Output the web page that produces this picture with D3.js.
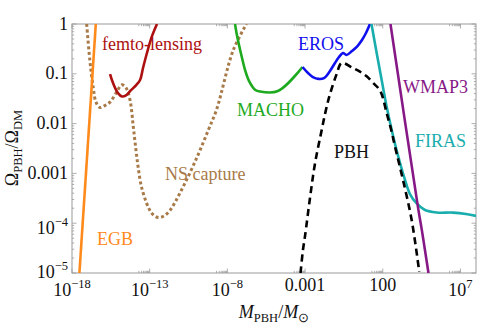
<!DOCTYPE html>
<html><head><meta charset="utf-8"><script src="https://cdn.jsdelivr.net/npm/d3@7"></script></head>
<body style="margin:0">
<script>
// curves: [M_PBH / M_sun, Omega_PBH / Omega_DM]
const egb = [[3.0e-18, 1e-5], [3.4e-17, 1]];
const nsCapture = [
  [8.8e-18, 1], [1.4e-17, 0.19], [2.3e-17, 0.054], [3.5e-17, 0.027], [6.3e-17, 0.021],
  [1.3e-16, 0.023], [2.8e-16, 0.027], [7.5e-16, 0.043], [1.6e-15, 0.06], [3e-15, 0.052],
  [5.4e-15, 0.03], [8.8e-15, 0.0086], [1.3e-14, 0.003], [1.8e-14, 0.00135], [3e-14, 5.3e-4],
  [8.1e-14, 2.1e-4], [1.6e-13, 1.5e-4], [3.6e-13, 1.3e-4], [8.3e-13, 1.4e-4], [2e-12, 1.8e-4],
  [1.1e-11, 4.6e-4], [1.1e-10, 0.0021], [5.9e-10, 0.0074], [2e-9, 0.019], [2.4e-8, 0.3], [1.7e-7, 1]
];
const femto = [
  [2.8e-16, 0.099], [4.5e-16, 0.064], [9.1e-16, 0.041], [1.65e-15, 0.035], [3e-15, 0.037],
  [6.3e-15, 0.047], [1.4e-14, 0.06], [2.4e-14, 0.075], [3.7e-14, 0.13], [6.4e-14, 0.25],
  [1.35e-13, 0.55], [2.95e-13, 1]
];
const macho = [
  [3.1e-8, 1], [4.1e-8, 0.6], [5.6e-8, 0.38], [8.7e-8, 0.21], [1.36e-7, 0.12],
  [2.45e-7, 0.072], [6e-7, 0.048], [1.25e-6, 0.044], [1.8e-5, 0.045], [6.8e-4, 0.137]
];
const eros = [
  [6.8e-4, 0.137], [1.54e-3, 0.104], [3.2e-3, 0.086], [7.3e-3, 0.079], [0.0164, 0.082],
  [0.04, 0.114], [0.084, 0.165], [0.152, 0.217], [0.275, 0.262], [0.46, 0.239],
  [1.04, 0.287], [2.2, 0.353], [4.6, 0.478], [8.3, 0.66], [15, 1]
];
const pbh = [
  [5.1e-4, 1e-5], [7.3e-4, 2.9e-5], [9.9e-4, 5.5e-5], [2.07e-3, 3.2e-4], [4.3e-3, 1.55e-3],
  [0.0117, 7.4e-3], [0.022, 0.0188], [0.04, 0.039], [0.108, 0.099], [0.226, 0.165],
  [1.21, 0.13], [3.4, 0.11], [9.6, 0.088], [24.5, 0.065], [57, 0.0496], [89, 0.0375],
  [178, 0.0163], [337, 7.8e-3], [611, 3.47e-3], [2000, 7.4e-4], [7240, 1.16e-4], [22300, 1.05e-5]
];
const firas = [
  [18.75, 1], [40.5, 0.262], [85, 0.075], [178, 0.0218], [474, 5.46e-3],
  [1280, 1.62e-3], [2690, 7.4e-4], [5600, 3.85e-4], [15200, 2.49e-4], [52000, 1.84e-4],
  [2.94e5, 1.64e-4], [3.29e6, 1.63e-4], [2.26e7, 1.53e-4], [1e8, 1.4e-4]
];
const wmap3 = [[313, 1], [18400, 2.1e-4], [33300, 7e-5], [87300, 1e-5]];

const xTicks = [1e-18, 1e-13, 1e-8, 1e-3, 1e2, 1e7];
const xTickLabels = [["10", "\u221218"], ["10", "\u221213"], ["10", "\u22128"], ["0.001"], ["100"], ["10", "7"]];
const yTicks = [1, 0.1, 0.01, 0.001, 1e-4, 1e-5];
const yTickLabels = [["1"], ["0.1"], ["0.01"], ["0.001"], ["10", "\u22124"], ["10", "\u22125"]];

const W = 481, H = 327;
const margin = {top: 24, right: 5, bottom: 54, left: 72};
const width = W - margin.left - margin.right;
const height = H - margin.top - margin.bottom;

const svg = d3.select("body").append("svg").attr("width", W).attr("height", H);
const g = svg.append("g").attr("transform", `translate(${margin.left},${margin.top})`);

const x = d3.scaleLog().domain([1e-18, 1e8]).range([0, width]);
const y = d3.scaleLog().domain([1e-5, 1]).range([height, 0]);

svg.append("defs").append("clipPath").attr("id", "clip")
  .append("rect").attr("width", width).attr("height", height);

// frame + ticks
const frameColor = "#9a9a9a";
g.append("rect").attr("width", width).attr("height", height)
  .attr("fill", "none").attr("stroke", frameColor).attr("stroke-width", 1);

const xMinor = [];
xTicks.forEach(t => { for (let k = 2; k <= 9; k++) xMinor.push(k * t / 10); });
const yMinor = [];
yTicks.slice(1).forEach(t => { for (let k = 2; k <= 9; k++) yMinor.push(k * t); });

const ticks = g.append("g").attr("stroke", frameColor).attr("stroke-width", 0.8);
function xTick(v, len) {
  ticks.append("line").attr("x1", x(v)).attr("x2", x(v)).attr("y1", height).attr("y2", height - len);
  ticks.append("line").attr("x1", x(v)).attr("x2", x(v)).attr("y1", 0).attr("y2", len);
}
function yTick(v, len) {
  ticks.append("line").attr("y1", y(v)).attr("y2", y(v)).attr("x1", 0).attr("x2", len);
  ticks.append("line").attr("y1", y(v)).attr("y2", y(v)).attr("x1", width).attr("x2", width - len);
}
xTicks.forEach(v => xTick(v, 4.5));
xMinor.filter(v => v >= 1e-18 && v <= 1e8).forEach(v => xTick(v, 2.2));
yTicks.forEach(v => yTick(v, 4.5));
yMinor.forEach(v => yTick(v, 2.2));

function addText(parent) {
  return parent.append("text").style("font-family", `"Liberation Serif"`).attr("font-size", 18);
}

// tick labels
function label(sel, parts) {
  sel.append("tspan").text(parts[0]);
  if (parts[1]) sel.append("tspan").attr("dy", -8).attr("font-size", 12.5).text(parts[1]);
}
xTicks.forEach((v, i) => {
  const p = xTickLabels[i];
  const t = addText(g).attr("x", x(v)).attr("y", height + (p[1] ? 23 : 18))
    .attr("text-anchor", "middle").attr("fill", "#111");
  label(t, p);
});
yTicks.forEach((v, i) => {
  const p = yTickLabels[i];
  const t = addText(g).attr("x", -4)
    .attr("y", p[1] ? Math.min(y(v) + 11, height + 5) : y(v) + 5.5)
    .attr("text-anchor", "end").attr("fill", "#111");
  label(t, p);
});

// axis titles
const yl = addText(svg).attr("transform", "translate(18,148) rotate(-90)")
  .attr("text-anchor", "middle").attr("fill", "#111");
yl.append("tspan").text("\u03A9");
yl.append("tspan").attr("dy", 4).attr("font-size", 12.5).text("PBH");
yl.append("tspan").attr("dy", -4).text("/\u03A9");
yl.append("tspan").attr("dy", 4).attr("font-size", 12.5).text("DM");

const xl = addText(svg).attr("x", margin.left + width / 2).attr("y", 318)
  .attr("text-anchor", "middle").attr("fill", "#111");
xl.append("tspan").attr("font-style", "italic").text("M");
xl.append("tspan").attr("dy", 4).attr("font-size", 12.5).text("PBH");
xl.append("tspan").attr("dy", -4).text("/");
xl.append("tspan").attr("font-style", "italic").text("M");
xl.append("tspan").attr("dy", 4).attr("font-size", 12.5).text("\u2299");

// curves
const line = d3.line().x(d => x(d[0])).y(d => y(d[1])).curve(d3.curveCatmullRom.alpha(0.5));
const plot = g.append("g").attr("clip-path", "url(#clip)");
const series = [
  {data: nsCapture, color: "#a87a48", width: 3, dash: "3,2.6"},
  {data: egb, color: "#ff8a1c", width: 2.6},
  {data: femto, color: "#ad1010", width: 2.6},
  {data: macho, color: "#1eaa1e", width: 2.6},
  {data: eros, color: "#1010ee", width: 2.6},
  {data: firas, color: "#1aadad", width: 2.6},
  {data: wmap3, color: "#871987", width: 2.6},
  {data: pbh, color: "#000", width: 2.6, dash: "7,4.5"}
];
series.forEach(s => {
  plot.append("path").datum(s.data).attr("d", line)
    .attr("fill", "none").attr("stroke", s.color).attr("stroke-width", s.width)
    .attr("stroke-dasharray", s.dash || null);
});

// curve labels
const names = [
  {text: "femto-lensing", x: 102, y: 50, color: "#ad1010"},
  {text: "EROS", x: 298, y: 50, color: "#1010ee"},
  {text: "MACHO", x: 237, y: 116, color: "#1eaa1e"},
  {text: "NS capture", x: 165, y: 180, color: "#a87a48"},
  {text: "EGB", x: 97, y: 245, color: "#ff8a1c"},
  {text: "PBH", x: 334, y: 158, color: "#111"},
  {text: "WMAP3", x: 403, y: 93, color: "#871987"},
  {text: "FIRAS", x: 415, y: 147, color: "#1aadad"}
];
names.forEach(d => {
  addText(svg).attr("x", d.x).attr("y", d.y).attr("fill", d.color).text(d.text);
});
</script>
</body></html>
